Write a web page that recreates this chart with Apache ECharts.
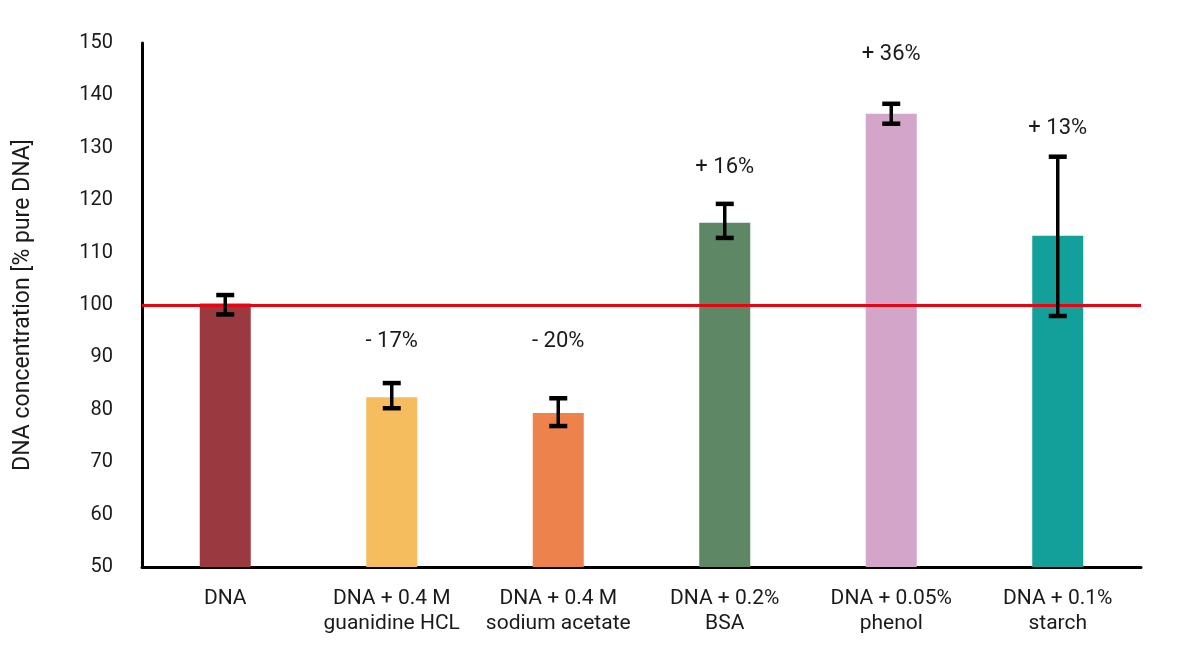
<!DOCTYPE html>
<html>
<head>
<meta charset="utf-8">
<script src="https://cdn.jsdelivr.net/npm/echarts@6/dist/echarts.min.js"></script>
<style>
  html, body { margin: 0; padding: 0; background: #fff; }
  #chart { width: 1200px; height: 659px; }
</style>
</head>
<body>
<div id="chart"></div>
<script>
// categories and values
var categories = ['DNA', 'DNA + 0.4 M\nguanidine HCL', 'DNA + 0.4 M\nsodium acetate',
                  'DNA + 0.2%\nBSA', 'DNA + 0.05%\nphenol', 'DNA + 0.1%\nstarch'];
var values = [100.3, 82.4, 79.4, 115.7, 136.5, 113.2];
var errLow = [98.2, 80.3, 76.9, 112.8, 134.6, 97.9];
var errHigh = [101.9, 85.1, 82.2, 119.3, 138.4, 128.3];
var changeLabels = ['', '- 17%', '- 20%', '+ 16%', '+ 36%', '+ 13%'];
var labelAt = [null, 93.1, 93.1, 126.2, 147.8, 133.6];
var colors = ['#9a3a40', '#f6bd5e', '#ed824c', '#5d8765', '#d3a5c8', '#13a09a'];
var yTicks = [50, 60, 70, 80, 90, 100, 110, 120, 130, 140, 150];
var reference = 100;

var FONT = 'Roboto';
var TEXT = '#1a1a1a';
var chart = echarts.init(document.getElementById('chart'));

var errData = errLow.map(function (lo, i) { return [i, lo, errHigh[i]]; });
var labelData = [];
labelAt.forEach(function (v, i) { if (v != null) labelData.push({ value: [i, v], name: changeLabels[i] }); });

chart.setOption({
  animation: false,
  grid: { left: 142, right: 59, top: 43, bottom: 92 },
  xAxis: {
    type: 'category',
    data: categories,
    axisLine: { lineStyle: { color: '#000', width: 3 } },
    axisTick: { show: false },
    axisLabel: { color: TEXT, fontFamily: FONT, fontSize: 21, lineHeight: 25, margin: 19, interval: 0 }
  },
  yAxis: {
    type: 'value',
    min: yTicks[0],
    max: yTicks[yTicks.length - 1],
    interval: 10,
    name: 'DNA concentration [% pure DNA]',
    nameLocation: 'middle',
    nameGap: 107,
    nameTextStyle: { color: TEXT, fontFamily: FONT, fontSize: 23 },
    axisLine: { show: true, lineStyle: { color: '#000', width: 3 } },
    axisTick: { show: false },
    splitLine: { show: false },
    axisLabel: { color: TEXT, fontFamily: FONT, fontSize: 20, margin: 29 }
  },
  series: [
    {
      type: 'bar',
      barWidth: 51,
      data: values.map(function (v, i) { return { value: v, itemStyle: { color: colors[i] } }; }),
      markLine: {
        silent: true,
        symbol: 'none',
        label: { show: false },
        lineStyle: { color: '#e30613', width: 3, type: 'solid', opacity: 1 },
        emphasis: { disabled: true },
        data: [{ yAxis: reference }],
        z: 5
      }
    },
    {
      type: 'custom',
      z: 10,
      data: errData,
      renderItem: function (params, api) {
        var x = api.value(0);
        var lo = api.coord([x, api.value(1)]);
        var hi = api.coord([x, api.value(2)]);
        var hw = 9;
        var cap = { stroke: '#000', lineWidth: 4.5 };
        return {
          type: 'group',
          children: [
            { type: 'line', shape: { x1: lo[0], y1: lo[1], x2: hi[0], y2: hi[1] }, style: { stroke: '#000', lineWidth: 3.5 } },
            { type: 'line', shape: { x1: lo[0] - hw, y1: lo[1], x2: lo[0] + hw, y2: lo[1] }, style: cap },
            { type: 'line', shape: { x1: hi[0] - hw, y1: hi[1], x2: hi[0] + hw, y2: hi[1] }, style: cap }
          ]
        };
      }
    },
    {
      type: 'scatter',
      symbolSize: 1,
      itemStyle: { opacity: 0 },
      data: labelData,
      z: 12,
      label: {
        show: true,
        position: 'inside',
        formatter: function (p) { return p.name; },
        color: TEXT,
        opacity: 1,
        fontFamily: FONT,
        fontSize: 22
      }
    }
  ]
});
</script>
</body>
</html>
